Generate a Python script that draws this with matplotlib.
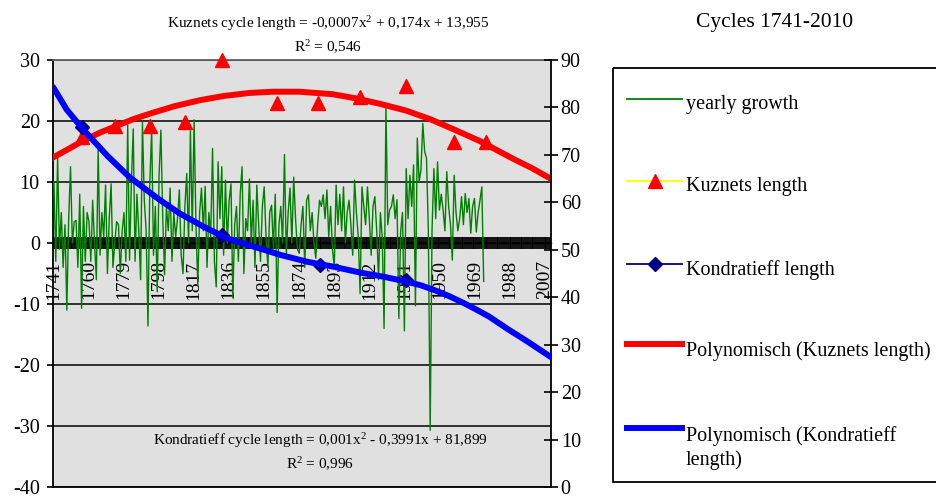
import numpy as np
import matplotlib.pyplot as plt
from matplotlib.lines import Line2D
from matplotlib.patches import Rectangle

plt.rcParams['font.family'] = 'Liberation Serif'
plt.rcParams['mathtext.fontset'] = 'custom'
plt.rcParams['mathtext.rm'] = 'Liberation Serif'
plt.rcParams['mathtext.it'] = 'Liberation Serif:italic'
plt.rcParams['axes.unicode_minus'] = False

# yearly growth 1741-1974
growth = [
    10, -3, 14, -1, 5, -4, 3, -11, 4, 12.5,
    0, 3.5, 3.7, -4, 8, -10.7, 6, -3, 5, 3.5,
    -3, 7, 0, -6, 15.5, -2, 5, 1, 9.5, -5,
    4, 9.7, -4, 0, 3.5, 3, -5, 2, 5, -3,
    19.3, -2.8, 10, 18.7, -3, 8, 2, -6, 19.8, 7,
    2, -13.6, 10, 18.5, -2, 6, -8, 11, 18.5, 4,
    -5.2, 6, 2, 9, -3, 5, 1, 4, 8.7, -2,
    -5, 6, 11.4, 0, 18.4, 2, 20.2, 3, -6.9, 5,
    9, 2, 9.3, -4, 5, 1, 15.5, -3, -7.2, 13.3,
    4, 12.5, -2, 10.3, 0, 7, 9.7, -9, 3, 6,
    -3, 8, 12.5, -5, 4, 2, 10.5, 0, 7, -4,
    9.5, 3, -3, 6, 9.2, 1, -4, 5, 6.2, -1,
    8, -11.4, 3, 6, 0, 14.5, -2, 5, 9, 0,
    10.8, 4, -1, -1.7, 3, 6, -4, 7, 7.9, 2,
    5, 0, -2.5, 3, 7, 6, 7.9, 4, 8.7, 1,
    6, -1, -3.9, 9.5, 3, 8, 2, 9.2, 0, 5,
    7, 3, -2, 10.3, 5, 1, -8.3, 9.2, 6, 3,
    9.2, 4, -2, 6, 7.6, 2, -6, 5, 1, -14,
    22.6, 3, 5.4, 6, 7.9, 4, 7.1, -12.4, 2, 5,
    -14.4, 12.2, 4, 11.1, 6, 12.8, -10.3, 17.2, 10, 12,
    19.6, 15, 13.9, 2, -30.7, 2.1, 12.2, 4, 13.3, 5.4,
    8, 5.4, 2, 11.7, 6, 3, -2.8, 11.1, 5, 2,
    4, 7.6, 3, 8.1, 5, 7.3, 1.6, 6, 7.3, 1.8,
    5, 7, 9.2, -6.3,
]
growth_years = np.arange(1741, 1741 + len(growth))

kuz_years = [1756, 1774, 1793, 1812, 1832, 1862, 1884, 1907, 1932, 1958, 1975]
kuz_len = [17.4, 19.1, 19.1, 19.9, 30.0, 22.9, 22.9, 24.0, 25.7, 16.6, 16.6]

kon_years = [1756, 1832, 1885, 1932]
kon_len = [75.9, 53.2, 46.8, 43.6]

# trend lines as drawn on the chart
kuz_trend_years = [1741, 1750, 1757, 1766, 1775, 1784, 1793, 1806, 1820, 1833, 1847,
                   1860, 1874, 1892, 1905, 1918, 1932, 1945, 1958, 1972, 1990, 2000, 2010]
kuz_trend = [14.1, 15.6, 16.8, 18.1, 19.2, 20.3, 21.2, 22.4, 23.4, 24.1, 24.6,
             24.8, 24.8, 24.4, 23.7, 22.8, 21.7, 20.3, 18.6, 16.7, 13.8, 12.3, 10.6]
kon_trend_years = [1741, 1748, 1757, 1770, 1782, 1797, 1809, 1822, 1835, 1849, 1864,
                   1878, 1893, 1907, 1920, 1932, 1940, 1948, 1956, 1963, 1970, 1977,
                   1987, 1998, 2010]
kon_trend = [84.0, 79.5, 75.3, 69.8, 65.3, 60.9, 57.7, 54.9, 52.4, 50.7, 48.9,
             47.5, 46.4, 45.2, 44.3, 43.3, 42.5, 41.4, 40.1, 38.8, 37.4, 35.9,
             33.3, 30.6, 27.5]

all_years = np.arange(1741, 2011)
label_years = list(range(1741, 2011, 19))

kuz_series = np.full(len(all_years), np.nan)
kuz_series[np.array(kuz_years) - 1741] = kuz_len
kon_series = np.full(len(all_years), np.nan)
kon_series[np.array(kon_years) - 1741] = kon_len

W, H = 936, 501
fig = plt.figure(figsize=(W / 100, H / 100), dpi=100)
x0, x1, y0, y1 = 53, 551, 60, 487
ax = fig.add_axes([x0 / W, 1 - y1 / H, (x1 - x0) / W, (y1 - y0) / H])
ax.set_facecolor('#E0E0E0')

ax.plot(growth_years, growth, color='#008000', lw=1.0, zorder=3)
ax.plot(all_years, kuz_series, color='yellow', lw=1.0, marker='^', ms=10,
        mfc='red', mec='red', zorder=4, clip_on=False)
ax.plot(kuz_trend_years, kuz_trend, color='red', lw=4.3, zorder=5,
        solid_joinstyle='round')

ax.set_xlim(1740.5, 2010.5)
ax.set_ylim(-40, 30)
ax.set_yticks(range(-40, 31, 10))
ax.yaxis.grid(True, color='black', lw=1.1)
ax.set_axisbelow(True)

ax.spines['bottom'].set_position(('data', 0))
ax.spines['bottom'].set_linewidth(1.0)
ax.spines['right'].set_visible(False)
ax.spines['top'].set_color('#606060')
ax.spines['top'].set_linewidth(1.3)
ax.spines['left'].set_linewidth(1.3)

ax.set_xticks(label_years)
ax.set_xticks(all_years, minor=True)
ax.set_xticklabels([str(y) for y in label_years], rotation=90)
ax.tick_params(axis='x', which='both', direction='inout', length=9, width=1.3,
               labelsize=14, pad=8)
ax.tick_params(axis='y', direction='out', length=4.5, width=1.2, labelsize=14.5, pad=5)

ax2 = ax.twinx()
ax2.plot(all_years, kon_series, color='#000080', lw=1.0, marker='D', ms=7,
         mfc='#000080', mec='#000080', zorder=4)
ax2.plot(kon_trend_years, kon_trend, color='#0000FF', lw=4.3, zorder=5,
         solid_joinstyle='round')
ax2.set_ylim(0, 90)
ax2.set_yticks(range(0, 91, 10))
ax2.tick_params(axis='y', direction='inout', length=10, width=1.2, labelsize=14.5, pad=2)
ax2.spines['top'].set_visible(False)
ax2.spines['left'].set_visible(False)
ax2.spines['right'].set_linewidth(1.3)
ax2.spines['bottom'].set_linewidth(1.3)

# overlay in pixel coordinates for texts and legend
lax = fig.add_axes([0, 0, 1, 1])
lax.set_xlim(0, W)
lax.set_ylim(H, 0)
lax.axis('off')

lax.text(328, 24, 'Kuznets cycle length = -0,0007x$^{2}$ + 0,174x + 13,955',
         ha='center', va='center', fontsize=11)
lax.text(328, 47, 'R$^{2}$ = 0,546', ha='center', va='center', fontsize=11)
lax.text(320, 441, 'Kondratieff cycle length = 0,001x$^{2}$ - 0,3991x + 81,899',
         ha='center', va='center', fontsize=11)
lax.text(320, 464, 'R$^{2}$ = 0,996', ha='center', va='center', fontsize=11)
lax.text(775, 22, 'Cycles 1741-2010', ha='center', va='center', fontsize=15.5)

lax.add_patch(Rectangle((612.5, 68), 400, 414, fill=False, ec='black', lw=1.3))
hx0, hx1, tx = 627, 682, 686
lax.add_line(Line2D([hx0, hx1], [99, 99], color='#008000', lw=1.3))
lax.text(tx, 104, 'yearly growth', va='center', fontsize=14.5)
lax.add_line(Line2D([hx0, hx1], [181, 181], color='yellow', lw=1.3))
lax.add_line(Line2D([(hx0 + hx1) / 2], [181], marker='^', ms=10, color='red'))
lax.text(tx, 187, 'Kuznets length', va='center', fontsize=14.5)
lax.add_line(Line2D([hx0, hx1], [264, 264], color='#000080', lw=1.3))
lax.add_line(Line2D([(hx0 + hx1) / 2], [264], marker='D', ms=7, color='#000080'))
lax.text(tx, 270, 'Kondratieff length', va='center', fontsize=14.5)
lax.add_line(Line2D([hx0, hx1], [344, 344], color='red', lw=4.3))
lax.text(tx, 351, 'Polynomisch (Kuznets length)', va='center', fontsize=14.5)
lax.add_line(Line2D([hx0, hx1], [428, 428], color='#0000FF', lw=4.3))
lax.text(tx, 436, 'Polynomisch (Kondratieff', va='center', fontsize=14.5)
lax.text(tx, 460, 'length)', va='center', fontsize=14.5)

fig.savefig('out.png', dpi=100)
